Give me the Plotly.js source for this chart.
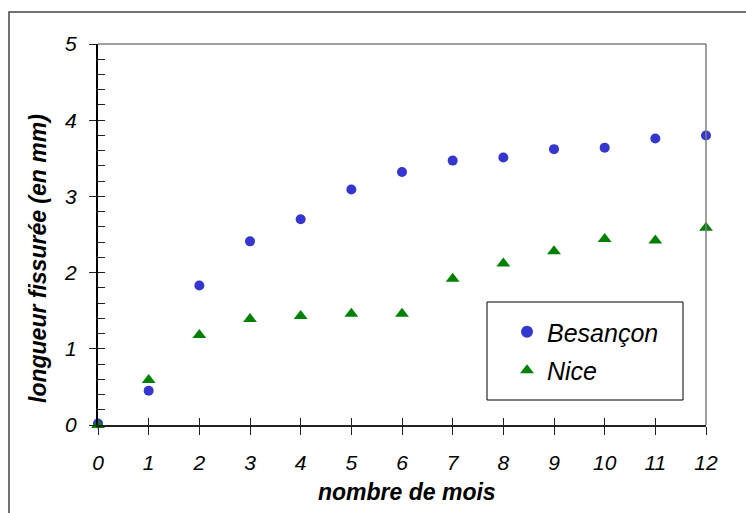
<!DOCTYPE html>
<html>
<head>
<meta charset="utf-8">
<script src="https://cdn.plot.ly/plotly-3.0.1.min.js"></script>
<style>
  html, body { margin: 0; padding: 0; background: #ffffff; }
  #chart { width: 746px; height: 513px; }
</style>
</head>
<body>
<div id="chart"></div>
<script>
// Crack length growth over the months, two sites
const months = [0, 1, 2, 3, 4, 5, 6, 7, 8, 9, 10, 11, 12];
const besancon = [0.02, 0.45, 1.83, 2.41, 2.70, 3.09, 3.32, 3.47, 3.51, 3.62, 3.64, 3.76, 3.80];
const nice = [0.00, 0.59, 1.18, 1.39, 1.43, 1.46, 1.46, 1.92, 2.12, 2.28, 2.44, 2.42, 2.59];
const seriesNames = ['Besançon', 'Nice'];
const xTickLabels = months.map(String);
const yTicks = [0, 1, 2, 3, 4, 5];

const W = 746, H = 513;
const M = { l: 98, r: 40, t: 44, b: 88 };
const pw = W - M.l - M.r, ph = H - M.t - M.b;
const px = v => (v - M.l) / pw;          // pixel -> paper x
const py = v => (H - M.b - v) / ph;      // pixel -> paper y

const FONT = 'Liberation Sans, Arial, sans-serif';

const traces = [
  {
    x: months, y: besancon, name: seriesNames[0], type: 'scatter', mode: 'markers',
    legendgroup: 'g1',
    marker: { symbol: 'circle', size: 10, color: '#3535cf' },
    cliponaxis: false
  },
  {
    x: months, y: nice, name: seriesNames[1], type: 'scatter', mode: 'markers',
    legendgroup: 'g2',
    marker: { symbol: 'triangle-up', size: 12, color: '#008000' },
    cliponaxis: false
  },
  // carriers for the inner half of the tick marks
  { x: [0], y: [0], xaxis: 'x2', yaxis: 'y2', mode: 'markers', marker: { opacity: 0 }, showlegend: false, hoverinfo: 'skip' }
];

const layout = {
  width: W, height: H,
  margin: M,
  paper_bgcolor: '#ffffff', plot_bgcolor: '#ffffff',
  font: { family: FONT, color: '#000000' },
  showlegend: true,
  xaxis: {
    range: [0, 12], tickvals: months, ticktext: xTickLabels,
    showgrid: false, zeroline: false,
    showline: true, linecolor: '#222222', linewidth: 1.5,
    ticks: 'outside', ticklen: 8, tickwidth: 1, tickcolor: '#222222',
    ticklabelstandoff: 10,
    tickfont: { family: FONT, size: 21, style: 'italic', color: '#000000' }
  },
  yaxis: {
    range: [0, 5], tickvals: yTicks,
    showgrid: false, zeroline: false,
    showline: true, linecolor: '#000000', linewidth: 2,
    ticks: 'outside', ticklen: 7, tickwidth: 1, tickcolor: '#222222',
    ticklabelstandoff: 8,
    tickfont: { family: FONT, size: 21, style: 'italic', color: '#000000' }
  },
  xaxis2: {
    overlaying: 'x', range: [0, 12], tickvals: months, showticklabels: false,
    showgrid: false, zeroline: false, showline: false,
    ticks: 'inside', ticklen: 7, tickwidth: 1, tickcolor: '#222222'
  },
  yaxis2: {
    overlaying: 'y', range: [0, 5], dtick: 0.2, tick0: 0, showticklabels: false,
    showgrid: false, zeroline: false, showline: false,
    ticks: 'inside', ticklen: 7, tickwidth: 1, tickcolor: '#222222'
  },
  legend: {
    x: px(507), y: py(309), xanchor: 'left', yanchor: 'top',
    bgcolor: 'rgba(0,0,0,0)', borderwidth: 0,
    font: { family: FONT, size: 25, style: 'italic', color: '#000000' },
    tracegroupgap: 3, itemsizing: 'constant'
  },
  shapes: [
    // outer frame
    { type: 'rect', xref: 'paper', yref: 'paper', x0: px(9), y0: -2, x1: 3, y1: py(12),
      line: { color: '#444444', width: 1.5 } },
    // plot frame, top and right edges
    { type: 'line', xref: 'paper', yref: 'paper', x0: 0, x1: 1, y0: 1, y1: 1,
      line: { color: '#808080', width: 1.5 } },
    { type: 'line', xref: 'paper', yref: 'paper', x0: 1, x1: 1, y0: 0, y1: 1,
      line: { color: '#808080', width: 1.5 } },
    // legend box
    { type: 'rect', xref: 'paper', yref: 'paper', x0: px(487), x1: px(683), y0: py(400), y1: py(302),
      line: { color: '#000000', width: 1 }, fillcolor: 'rgba(255,255,255,0)' }
  ],
  annotations: [
    { text: 'nombre de mois', xref: 'paper', yref: 'paper', x: px(407), y: py(492),
      xanchor: 'center', yanchor: 'middle', showarrow: false,
      font: { family: FONT, size: 23, weight: 'bold', style: 'italic', color: '#000000' } },
    { text: 'longueur fissurée (en mm)', xref: 'paper', yref: 'paper', x: px(38), y: py(259),
      xanchor: 'center', yanchor: 'middle', showarrow: false, textangle: -90,
      font: { family: FONT, size: 23, weight: 'bold', style: 'italic', color: '#000000' } }
  ]
};

Plotly.newPlot('chart', traces, layout, { displayModeBar: false, staticPlot: true });
</script>
</body>
</html>
